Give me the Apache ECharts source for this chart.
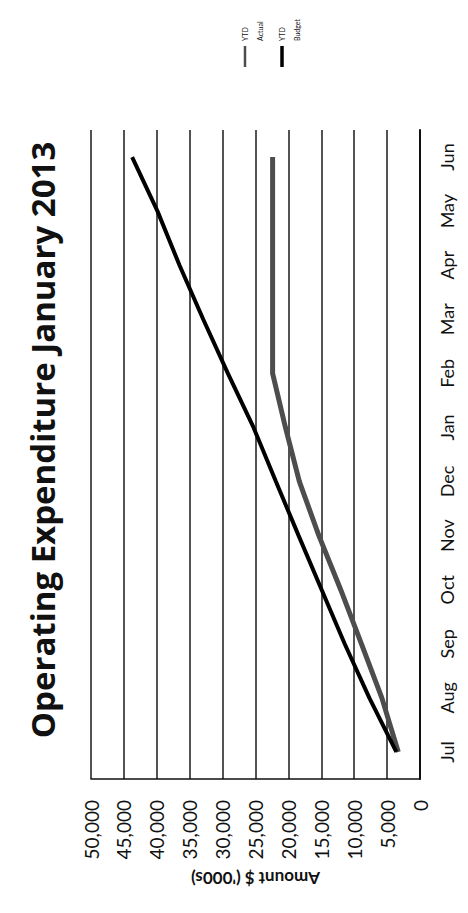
<!DOCTYPE html>
<html>
<head>
<meta charset="utf-8">
<script src="https://cdn.jsdelivr.net/npm/echarts@6/dist/echarts.min.js"></script>
<style>
  html, body { margin: 0; padding: 0; background: #fff; overflow: hidden; }
  body { width: 468px; height: 913px; position: relative; }
  /* thin page frame around the printed chart */
  #frame {
    position: absolute; left: 5px; top: 2px; width: 470px; height: 907px;
    border-left: 1px solid #666; border-top: 1px solid #666; border-bottom: 2px solid #222;
  }
  /* the chart is laid out landscape and turned a quarter turn counter-clockwise */
  #chart {
    position: absolute; left: 0; top: 0; width: 913px; height: 468px;
    transform-origin: 0 0;
    transform: translate(0, 913px) rotate(-90deg);
  }
</style>
</head>
<body>
<div id="frame"></div>
<div id="chart"></div>
<script>
// Months of the financial year
const months = ['Jul', 'Aug', 'Sep', 'Oct', 'Nov', 'Dec', 'Jan', 'Feb', 'Mar', 'Apr', 'May', 'Jun'];
// Year-to-date spend, $'000s
const ytdActual = [3300, 5800, 8900, 12050, 15370, 18330, 20450, 22400, 22400, 22400, 22400, 22400];
const ytdBudget = [3600, 7700, 11450, 14950, 18450, 21900, 25300, 29200, 32950, 36550, 39900, 43750];
// Value axis ticks
const amountMin = 0;
const amountMax = 50000;
const amountStep = 5000;

const FONT = 'Lato, "Open Sans", sans-serif';
const chart = echarts.init(document.getElementById('chart'), null, { renderer: 'svg' });

// One small legend block per series: a short bar with "YTD" beside it and the
// second word on the line below.
function legendFor(name, top, barHeight) {
  return {
    data: [name],
    orient: 'vertical',
    left: 846,
    top: top,
    padding: 0,
    icon: 'rect',
    itemWidth: 21,
    itemHeight: barHeight,
    itemGap: 0,
    formatter: n => {
      const parts = n.split(' ');
      return '{a| }\n{a|' + parts[0] + '}\n{a|' + parts[1] + '}';
    },
    textStyle: {
      fontFamily: FONT, fontSize: 7, color: '#111', lineHeight: 15,
      rich: { a: { fontFamily: FONT, fontSize: 7, color: '#111', lineHeight: 15 } }
    }
  };
}

chart.setOption({
  backgroundColor: '#fff',
  animation: false,
  title: {
    text: 'Operating Expenditure January 2013',
    left: 468,
    top: 21,
    textAlign: 'center',
    textStyle: { fontFamily: '"Open Sans", Lato, sans-serif', fontSize: 33, fontWeight: 'bold', color: '#111' }
  },
  legend: [legendFor('YTD Actual', 222.5, 2.5), legendFor('YTD Budget', 259.5, 3.5)],
  grid: { left: 134, right: 130, top: 91, bottom: 48 },
  xAxis: {
    type: 'category',
    data: months,
    boundaryGap: true,
    axisLine: { lineStyle: { color: '#111', width: 2 } },
    axisTick: { show: false },
    axisLabel: { margin: 18, fontFamily: FONT, fontSize: 18, color: '#111' }
  },
  yAxis: {
    type: 'value',
    min: amountMin,
    max: amountMax,
    interval: amountStep,
    name: "Amount $ ('000s)",
    nameLocation: 'middle',
    nameRotate: 90,
    nameGap: 83,
    nameTextStyle: { fontFamily: FONT, fontSize: 17, fontWeight: 'bold', color: '#111' },
    axisLine: { show: true, lineStyle: { color: '#111', width: 1.5 } },
    axisTick: { show: false },
    axisLabel: {
      margin: 21,
      fontFamily: FONT,
      fontSize: 19,
      color: '#111',
      formatter: v => v.toLocaleString('en-US')
    },
    splitLine: { lineStyle: { color: '#1a1a1a', width: 1.5 } }
  },
  series: [
    {
      name: 'YTD Actual',
      type: 'line',
      data: ytdActual,
      symbol: 'none',
      lineStyle: { color: '#4d4d4d', width: 5 },
      itemStyle: { color: '#4d4d4d' }
    },
    {
      name: 'YTD Budget',
      type: 'line',
      data: ytdBudget,
      symbol: 'none',
      lineStyle: { color: '#000', width: 4 },
      itemStyle: { color: '#000' }
    }
  ]
});
</script>
</body>
</html>
